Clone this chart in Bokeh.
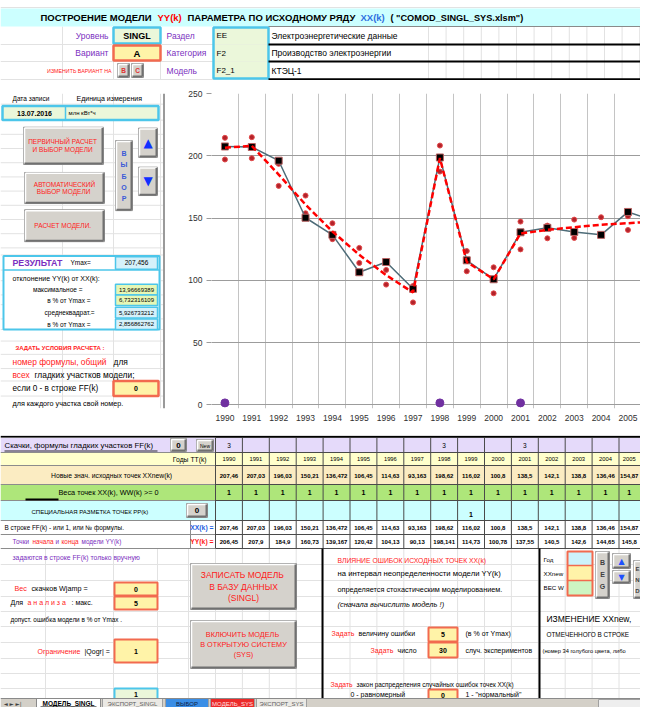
from bokeh.plotting import figure
from bokeh.models import Range1d, FixedTicker, ColumnDataSource
from bokeh.layouts import column, row
from bokeh.embed import file_html
from bokeh.resources import INLINE
from bokeh.core.properties import value

# ---------------- data ----------------
years = [1990, 1991, 1992, 1993, 1994, 1995, 1996, 1997, 1998, 1999, 2000, 2001, 2002, 2003, 2004, 2005]
xx = [207.46, 207.03, 196.03, 150.21, 136.472, 106.45, 114.63, 93.163, 198.62, 116.02, 100.8, 138.5, 142.1, 138.8, 136.46, 154.87]
xx_new = [207.46, 207.03, 196.03, 150.21, 136.472, 106.45, 114.63, 93.163, 198.62, 116.02, 100.8, 138.5, 142.1, 138.8, 136.46, 154.87]
yy = [206.45, 207.9, 184.9, 160.73, 139.167, 120.42, 104.13, 90.13, 198.141, 114.73, 100.78, 137.55, 140.5, 142.6, 144.65, 145.8]
weights = [1, 1, 1, 1, 1, 1, 1, 1, 1, 1, 1, 1, 1, 1, 1, 1]
ff_marks = ["3", "", "", "", "", "", "", "", "3", "", "", "3", "", "", "", ""]
pp_marks = ["", "", "", "", "", "", "", "", "", "1", "", "", "", "", "", ""]
# next point (beyond the visible right edge)
year_next = 2006
xx_next = 147.5
yy_next = 147.2
# stochastic experiments: upper / lower points
err_hi = [214.4, 214.9, 193.5, 168.0, 145.8, 126.0, 108.3, 95.4, 208.2, 123.5, 110.4, 147.1, 143.9, 148.7, 150.6, 151.4]
err_lo = [197.0, 198.0, 175.8, 153.8, 133.0, 113.9, 96.5, 82.2, 187.3, 107.2, 89.5, 124.8, 133.7, 134.0, 136.4, 140.4]
jump_years = [1990, 1998, 2001]
jump_level = [1.5, 1.5, 1.5]
y_ticks = [0, 50, 100, 150, 200, 250]
# results
ymax_val = 207.456
dev_max = 13.96669389
dev_max_pct = 6.732316109
dev_rms = 5.926733212
dev_rms_pct = 2.856862762

FONT = "Liberation Sans"
PURPLE = "#7a2fc0"
RED = "#ff1a1a"
BLUE = "#1f5fe0"
CYAN = "#4cc6ea"
REDB = "#f26a4f"
YELLOW = "#fff3a8"
LGREEN = "#ebf7da"
LCYAN = "#d6f1fa"
LAV = "#e5dafa"
YROW = "#ffffcc"
TAN = "#fbecc2"
GROW = "#aee67a"
CROW = "#ccffff"
BTN = "#d5d2cc"
FAINT = "#e2e2e2"


def fmt(v):
    return f"{v:.10g}".replace(".", ",")


def bgfig(x0, y0, x1, y1):
    p = figure(width=int(x1 - x0), height=int(y1 - y0), x_range=Range1d(x0, x1), y_range=Range1d(y1, y0),
               output_backend="svg", toolbar_location=None, min_border=0,
               x_axis_location=None, y_axis_location=None)
    p.grid.visible = False
    p.outline_line_color = None
    p.background_fill_color = "white"
    p.border_fill_color = "white"
    return p


class Canvas:
    def __init__(self, p):
        self.p = p
        self.reset()

    def reset(self):
        self.g = dict(x0=[], y0=[], x1=[], y1=[], lcol=[], lwid=[])
        self.q = dict(l=[], r=[], t=[], b=[], fcol=[], falp=[], lcol=[], lalp=[], lwid=[])
        self.s = dict(x0=[], y0=[], x1=[], y1=[], lcol=[], lwid=[])
        self.tx = {}

    def grid(self, x0, y0, x1, y1, c=FAINT, w=1):
        for k, v in zip(["x0", "y0", "x1", "y1", "lcol", "lwid"], [x0, y0, x1, y1, c, w]):
            self.g[k].append(v)

    def seg(self, x0, y0, x1, y1, c="black", w=1):
        for k, v in zip(["x0", "y0", "x1", "y1", "lcol", "lwid"], [x0, y0, x1, y1, c, w]):
            self.s[k].append(v)

    def rect(self, x0, y0, x1, y1, fill=None, line=None, lw=1):
        self.q["l"].append(x0); self.q["r"].append(x1)
        self.q["t"].append(y0); self.q["b"].append(y1)
        self.q["fcol"].append(fill or "white"); self.q["falp"].append(1 if fill else 0)
        self.q["lcol"].append(line or "white"); self.q["lalp"].append(1 if line else 0)
        self.q["lwid"].append(lw)

    def text(self, x, y, s, size=8, color="black", align="left", style="normal", font=FONT):
        key = (align, style, font)
        d = self.tx.setdefault(key, dict(x=[], y=[], s=[], fs=[], tcolor=[]))
        d["x"].append(x); d["y"].append(y); d["s"].append(s)
        d["fs"].append(f"{size}px"); d["tcolor"].append(color)

    def button(self, x0, y0, x1, y1, lines, color=RED, size=7, style="bold", fill=BTN, font=FONT):
        self.rect(x0, y0, x1, y1, fill=fill, line="#9a9a9a", lw=1)
        self.seg(x0 + 1, y0 + 1, x1 - 1, y0 + 1, "white", 1.5)
        self.seg(x0 + 1, y0 + 1, x0 + 1, y1 - 1, "white", 1.5)
        self.seg(x0 + 1, y1 - 1, x1 - 1, y1 - 1, "#707070", 2)
        self.seg(x1 - 1, y0 + 1, x1 - 1, y1 - 1, "#707070", 2)
        n = len(lines)
        cy = (y0 + y1) / 2
        lh = size * 1.35
        for i, l in enumerate(lines):
            self.text((x0 + x1) / 2, cy + (i - (n - 1) / 2) * lh, l, size, color, "center", style, font)

    def flush(self):
        p = self.p
        if self.g["x0"]:
            p.segment(x0="x0", y0="y0", x1="x1", y1="y1", line_color="lcol", line_width="lwid",
                      source=ColumnDataSource(self.g))
        if self.q["l"]:
            p.quad(left="l", right="r", top="t", bottom="b", fill_color="fcol", fill_alpha="falp",
                   line_color="lcol", line_alpha="lalp", line_width="lwid", source=ColumnDataSource(self.q))
        if self.s["x0"]:
            p.segment(x0="x0", y0="y0", x1="x1", y1="y1", line_color="lcol", line_width="lwid",
                      source=ColumnDataSource(self.s))
        for (align, style, font), d in self.tx.items():
            p.text(x="x", y="y", text="s", text_font_size="fs", text_color="tcolor",
                   text_align=align, text_font_style=style, text_font=value(font),
                   text_baseline="middle", source=ColumnDataSource(d))
        self.reset()


W = 640          # page content width (reference pixels 0..640)
HB = 707         # page content bottom

# ---------------- header ----------------
head = bgfig(0, 0, W, 80)
H = Canvas(head)
H.grid(0, 7, W, 7)
for x in [62, 113, 160, 213]:
    H.grid(x, 26, x, 80)
for y in [44, 61, 79]:
    H.grid(0, y, 268, y)
for i in range(13):
    x = 428 + 17.6 * i
    H.grid(x, 26, x, 79)
H.rect(0, 8, W, 26, fill="#ccffff")
H.text(40, 17, "ПОСТРОЕНИЕ МОДЕЛИ", 9.5, "black", "left", "bold")
H.text(157, 17, "YY(k)", 9.5, "#ff0000", "left", "bold")
H.text(187, 17, "ПАРАМЕТРА  ПО  ИСХОДНОМУ  РЯДУ", 9.5, "black", "left", "bold")
H.text(360, 17, "XX(k)", 9.5, "#2f6fe0", "left", "bold")
H.text(390, 17, '( "COMOD_SINGL_SYS.xlsm")', 9.2, "black", "left", "bold")

H.seg(268, 26, W, 26, "#8a8a8a", 1)
H.seg(268, 44, W, 44, "black", 2)
H.seg(268, 61, W, 61, "black", 2)
H.seg(268, 79, W, 79, "black", 2.5)

H.text(108, 35, "Уровень", 8.5, PURPLE, "right")
H.rect(113, 27, 160, 43, fill=LGREEN, line=CYAN, lw=2.5)
H.text(136.5, 35, "SINGL", 9, "black", "center", "bold")
H.text(108, 52.5, "Вариант", 8.5, PURPLE, "right")
H.rect(113, 45, 160, 60, fill=YELLOW, line=REDB, lw=2.5)
H.text(136.5, 52.5, "A", 9.5, "black", "center", "bold")
H.text(111, 70, "ИЗМЕНИТЬ ВАРИАНТ НА", 5.3, "#ff2020", "right")
H.button(117, 63, 129, 77, ["B"], "#e03030", 6.5, "bold")
H.button(131, 63, 143, 77, ["C"], "#e03030", 6.5, "bold")

H.text(166, 35, "Раздел", 8.5, PURPLE)
H.text(166, 52.5, "Категория", 8.5, PURPLE)
H.text(166, 70, "Модель", 8.5, PURPLE)
H.rect(213, 27, 268, 44, fill=LGREEN)
H.rect(213, 44, 268, 61, fill=LGREEN)
H.rect(213, 61, 268, 78, fill=LGREEN)
H.rect(213, 27, 268, 78, line=CYAN, lw=2.5)
H.text(216, 35, "EE", 8)
H.text(216, 52.5, "F2", 8)
H.text(216, 70, "F2_1", 8)
H.text(271, 35, "Электроэнергетические данные", 8.5)
H.text(271, 52.5, "Производство электроэнергии", 8.5)
H.text(271, 70, "КТЭЦ-1", 8.5)
H.flush()

# ---------------- left panel ----------------
left = bgfig(0, 80, 165, 435)
L = Canvas(left)
for x in [62, 113, 160]:
    L.grid(x, 80, x, 435)
for y in [92, 110, 126, 142, 158, 174, 190, 206, 222, 238, 254, 262, 279, 291, 307, 318, 334, 346, 359,
          374, 390, 404, 421]:
    L.grid(0, y, 163, y)

L.text(12, 86, "Дата записи", 6.5)
L.text(76, 86, "Единица измерения", 7)
L.rect(2, 94, 158, 110, fill=LGREEN, line=CYAN, lw=2.5)
L.seg(65, 94, 65, 110, CYAN, 1.5)
L.text(34, 102, "13.07.2016", 7, "black", "center", "bold")
L.text(68, 102, "млн кВт*ч", 6)

L.button(23, 118, 103, 160, ["ПЕРВИЧНЫЙ  РАСЧЕТ", "И ВЫБОР  МОДЕЛИ"], RED, 6.5, "normal")
L.button(24, 169, 104, 204, ["АВТОМАТИЧЕСКИЙ", "ВЫБОР  МОДЕЛИ"], RED, 6.5, "normal")
L.button(24, 211, 104, 247, ["РАСЧЕТ   МОДЕЛИ."], RED, 6.5, "normal")
L.button(115, 133, 132, 212, [], BLUE)
for i, ch in enumerate("ВЫБОР"):
    L.text(123.5, 148 + i * 12.5, ch, 7, "#3a5ad8", "center", "bold")
L.button(138, 119, 157, 152, ["▲"], "#1030ff", 12, "normal", font="DejaVu Sans")
L.button(138, 163, 157, 195, ["▼"], "#1030ff", 12, "normal", font="DejaVu Sans")

L.rect(3, 263, 159, 346, fill="white", line=CYAN, lw=2)
L.text(12, 271, "РЕЗУЛЬТАТ", 8.8, PURPLE, "left", "bold")
L.text(70, 271, "Ymax=", 6.5)
L.rect(115, 264, 157, 278, fill=LCYAN, line=CYAN, lw=1.5)
L.text(136, 271, fmt(ymax_val), 6.5, "black", "center")
L.seg(3, 279, 159, 279, CYAN, 1.5)
L.text(12, 288, "отклонение YY(k) от XX(k):", 7)
rows_res = [(301, "максимальное =", 82, dev_max, "#e6f7b6"),
            (313, "в % от Ymax =", 90, dev_max_pct, "#e6f7b6"),
            (327, "среднеквадрат.=", 94, dev_rms, LCYAN),
            (340, "в % от Ymax =", 90, dev_rms_pct, LCYAN)]
for y, lab, xr, v, fc in rows_res:
    L.text(xr, y, lab, 6.5, "black", "right")
    L.rect(115, y - 6, 157, y + 6, fill=fc, line=CYAN, lw=1.5)
    L.text(136, y, fmt(v), 6, "black", "center")

L.text(15, 367, "ЗАДАТЬ УСЛОВИЯ РАСЧЕТА :", 6, RED, "left", "bold")
L.text(12, 383, "номер формулы, общий", 8.4, RED)
L.text(113, 383, "для", 8.4)
L.text(12, 397, "всех", 8.4, RED)
L.text(34, 397, "гладких  участков модели;", 8.4)
L.text(12, 412, "если 0 - в строке FF(k)", 8.2)
L.rect(113, 404, 158, 421, fill=YELLOW, line=REDB, lw=2.5)
L.text(135.5, 412.5, "0", 7, "black", "center", "bold")
L.text(12, 429.5, "для каждого участка свой номер.", 7.2)
L.seg(163.5, 80, 163.5, 435, "#9a9a9a", 2)
L.flush()

# ---------------- chart ----------------
chart = figure(width=W - 165, height=355, x_range=Range1d(1989.5, 2005.466), y_range=Range1d(-3, 250),
               output_backend="svg", toolbar_location=None,
               min_border_left=46, min_border_right=0, min_border_top=13, min_border_bottom=27)
chart.outline_line_color = None
chart.background_fill_color = "white"
chart.border_fill_color = "white"
chart.xaxis.ticker = FixedTicker(ticks=years)
chart.yaxis.ticker = FixedTicker(ticks=y_ticks)
chart.xgrid.ticker = FixedTicker(ticks=[y - 0.5 for y in years] + [years[-1] + 0.5])
chart.ygrid.ticker = FixedTicker(ticks=y_ticks)
chart.xgrid.grid_line_color = "#c4c4c4"
chart.ygrid.grid_line_color = "#9c9c9c"
chart.xgrid.grid_line_width = 1
chart.ygrid.grid_line_width = 1
for ax in (chart.xaxis[0], chart.yaxis[0]):
    ax.axis_line_color = None
    ax.minor_tick_line_color = None
    ax.major_label_text_font = FONT
    ax.major_label_text_font_size = "8.5px"
    ax.major_label_text_color = "#303030"
chart.xaxis.major_tick_line_color = None
chart.xaxis.major_tick_out = 0
chart.xaxis.major_tick_in = 0
chart.xaxis.major_label_standoff = 6
chart.yaxis.major_tick_line_color = "#9c9c9c"
chart.yaxis.major_tick_in = 0
chart.yaxis.major_tick_out = 5
chart.yaxis.major_label_standoff = 4

chart.scatter(x=years + years, y=err_hi + err_lo, marker="circle", size=5,
              fill_color="#b3222a", line_color="#e24a4a", line_width=1)
chart.line(x=years + [year_next], y=xx + [xx_next], line_color="#4e6c78", line_width=1.5)
chart.scatter(x=years, y=xx, marker="square", size=7, fill_color="black", line_color="#b86060", line_width=1)
chart.line(x=years + [year_next], y=yy + [yy_next], line_color="#ff0000", line_width=2.5, line_dash="6 3")
chart.scatter(x=jump_years, y=jump_level, marker="circle", size=8, fill_color="#7030a0", line_color="#7030a0")

# ---------------- bottom ----------------
bot = bgfig(0, 435, W, HB)
B = Canvas(bot)
bnd = [215 + 26.9 * i for i in range(len(years) + 1)]
# visible centre of each column (last column is cut by the page edge)
cen = [(bnd[i] + min(bnd[i + 1], W - 1)) / 2 for i in range(len(years))]

# faint sheet grid (lower area)
for x in [45, 113, 157, 188] + bnd:
    B.grid(x, 548, x, 700)
for y in [564, 580, 596, 611, 626, 642, 658, 673, 688]:
    B.grid(0, y, W, y)

R = [437, 452, 465, 484, 500, 520, 534, 548]
B.rect(0, 437, W, 452, fill=LAV)
B.rect(0, 452, W, 465, fill=YROW)
B.rect(0, 465, W, 484, fill=TAN)
B.rect(0, 484, W, 500, fill=GROW)
B.rect(0, 500, W, 520, fill=CROW)
B.rect(0, 520, W, 548, fill="white")
for y in R:
    B.seg(215, y, W, y, "#4a4a4a", 1)
    B.seg(0, y, 215, y, "#8c8c8c", 1)
for x in bnd:
    B.seg(x, 437, x, 548, "#4a4a4a", 1)
B.seg(190, 520, 190, 548, "#8c8c8c", 1)
B.seg(0, 436, W, 436, "black", 1.5)

B.text(4, 445, "Скачки, формулы гладких участков  FF(k)", 7.8)
B.seg(4, 450.5, 157, 450.5, "black", 0.8)
B.button(170, 438, 186, 451, ["0"], "black", 8, "bold")
B.button(196, 439, 213, 451, ["New"], "black", 5, "normal")
B.text(208, 458.5, "Годы  TT(k)", 6.8, "black", "right")
B.text(112, 475, "Новые знач. исходных точек  XXnew(k)", 6.8, "black", "center")
B.text(58, 492, "Веса точек XX(k),   WW(k) >= 0", 7.3)
B.seg(25, 499, 58, 499, "black", 2)
B.text(31, 511, "СПЕЦИАЛЬНАЯ  РАЗМЕТКА ТОЧЕК  PP(k)", 6)
B.button(186, 503, 207, 517, ["0"], "black", 8, "bold")
B.text(4, 527, "В строке FF(k) - или 1, или № формулы.", 6.4)
B.text(213, 527, "XX(k) =", 6.8, BLUE, "right", "bold")
B.text(12, 541, "Точки", 6.4, PURPLE)
B.text(32, 541, "начала", 6.4, RED)
B.text(55, 541, "и", 6.4, PURPLE)
B.text(61, 541, "конца", 6.4, RED)
B.text(81, 541, "модели  YY(k)", 6.4, PURPLE)
B.text(213, 541, "YY(k) =", 6.8, RED, "right", "bold")

for i in range(len(years)):
    c = cen[i]
    if ff_marks[i]:
        B.text(c, 445, ff_marks[i], 6.5, "black", "center")
    B.text(c, 458.5, str(years[i]), 5.8, "black", "center")
    B.text(c, 475, fmt(xx_new[i]), 6, "black", "center", "bold")
    B.text(c, 492, str(weights[i]), 7, "black", "center", "bold")
    if pp_marks[i]:
        B.text(c, 514, pp_marks[i], 7, "black", "center", "bold")
    B.text(c, 527, fmt(xx[i]), 6, "black", "center", "bold")
    B.text(c, 541, fmt(yy[i]), 6, "black", "center", "bold")

# lower-left
B.text(12, 557, "задаются в строке FF(k) только вручную", 6.8, PURPLE)
B.text(14, 588, "Вес", 7.2, RED)
B.text(31, 588, "скачков   Wjamp =", 7.2)
B.rect(114, 582, 157, 595, fill=YELLOW, line=REDB, lw=2)
B.text(135.5, 588.5, "0", 7, "black", "center", "bold")
B.text(10, 602, "Для", 7)
B.text(27, 602, "а н а л и з а", 7, RED)
B.text(71, 602, ":  макс.", 7)
B.rect(114, 596, 157, 609, fill=YELLOW, line=REDB, lw=2)
B.text(135.5, 602.5, "5", 7, "black", "center", "bold")
B.text(10, 619, "допуст. ошибка  модели в  %  от Ymax .", 6.4)
B.text(37, 651, "Ограничение", 7, RED)
B.text(84, 651, "|Qogr| =", 7)
B.rect(114, 639, 157, 662, fill=YELLOW, line=REDB, lw=2)
B.text(135.5, 650.5, "1", 7, "black", "center", "bold")
B.rect(114, 688, 157, 702, fill=LGREEN, line=CYAN, lw=2)
B.text(135.5, 694, "1", 7, "black", "center", "bold")

B.button(190, 563, 296, 609, ["ЗАПИСАТЬ  МОДЕЛЬ", "В БАЗУ ДАННЫХ", "(SINGL)"], RED, 8.5, "normal")
B.button(190, 620, 296, 668, ["ВКЛЮЧИТЬ  МОДЕЛЬ", "В ОТКРЫТУЮ СИСТЕМУ", "(SYS)"], RED, 7.3, "normal")

B.seg(322, 548, 322, 700, "black", 2)
B.seg(539, 548, 539, 700, "black", 2)
B.text(337, 560, "ВЛИЯНИЕ  ОШИБОК ИСХОДНЫХ  ТОЧЕК  XX(k)", 6.8, RED)
B.text(337, 573, "на интервал неопределенности модели YY(k)", 7.7)
B.text(337, 589, "определяется стохастическим  моделированием.", 7.3)
B.text(337, 604, "(сначала  вычислить модель  !)", 7.5, "black", "left", "italic")
B.text(331, 633, "Задать", 7, RED)
B.text(358, 633, "величину ошибки", 7)
B.rect(428, 627, 457, 641, fill=YELLOW, line=REDB, lw=2)
B.text(442.5, 634, "5", 7, "black", "center", "bold")
B.text(465, 633, "(в % от Ymax)", 7)
B.text(370, 650, "Задать", 7, RED)
B.text(397, 650, "число", 7)
B.rect(428, 642, 457, 657, fill=YELLOW, line=REDB, lw=2)
B.text(442.5, 649.5, "30", 7, "black", "center", "bold")
B.text(465, 650, "случ.  экспериментов", 6.9)
B.text(330, 684, "Задать", 6.8, RED)
B.text(356, 684, "закон распределения случайных ошибок точек XX(k)", 6.4)
B.rect(428, 689, 457, 703, fill=YELLOW, line=REDB, lw=2)
B.text(442.5, 695, "0", 7, "black", "center", "bold")
B.text(350, 694, "0 - равномерный", 7)
B.text(465, 694, '1 - "нормальный"', 7)

B.text(543, 559, "Год", 6.2)
B.text(543, 573, "XXnew", 6.2)
B.text(543, 587, "ВЕС W", 6.2)
B.rect(567, 551, 592, 565, fill="#cdf3fb")
B.rect(567, 565, 592, 580, fill=YELLOW)
B.rect(567, 580, 592, 595, fill="#cdf5c2")
B.rect(567, 551, 592, 595, line=REDB, lw=2)
B.seg(567, 565, 592, 565, REDB, 1.5)
B.seg(567, 580, 592, 580, REDB, 1.5)
B.button(595, 551, 609, 598, [], "black")
for i, ch in enumerate("BEG"):
    B.text(602, 562 + i * 12, ch, 7, "#404040", "center", "bold")
B.button(612, 553, 630, 568, ["▲"], "#2050ff", 8, "normal", font="DejaVu Sans")
B.button(612, 570, 630, 583, ["▼"], "#2050ff", 8, "normal", font="DejaVu Sans")
B.button(633, 560, 648, 598, [], "black")
for i, ch in enumerate("END"):
    B.text(637, 568 + i * 11, ch, 6, "#404040", "center", "bold")
B.text(546, 618, "ИЗМЕНЕНИЕ  XXnew,", 8.5)
B.text(546, 634, "ОТМЕЧЕННОГО  В  СТРОКЕ", 6.4)
B.text(542, 650, "(номер 34 голубого цвета, либо", 5.7)
B.flush()

# sheet tabs bar (on top)
B.rect(0, 698, W, HB, fill="#d4d0c8")
B.seg(0, 698, W, 698, "#8a8a8a", 1)
B.text(3, 703, "◄ ► ►|", 5.5, "#404040", "left", "normal", "DejaVu Sans")
B.rect(36, 698, 100, HB, fill="white", line="#8a8a8a")
B.text(68, 703, "МОДЕЛЬ_SINGL", 6.5, "black", "center", "bold")
B.seg(40, 706.5, 96, 706.5, "black", 1)
B.rect(102, 698, 162, HB, fill="#ebe9e4", line="#a0a0a0")
B.text(132, 703, "ЭКСПОРТ_SINGL", 6, "#606060", "center")
B.rect(165, 698, 208, HB, fill="#3a8ee6", line="#a0a0a0")
B.text(186.5, 703, "ВЫБОР", 6, "#102040", "center")
B.rect(210, 698, 254, HB, fill="#ec2a2a", line="#a0a0a0")
B.text(232, 703, "МОДЕЛЬ_SYS", 6, "#ffe0e0", "center")
B.rect(256, 698, 306, HB, fill="#ebe9e4", line="#a0a0a0")
B.text(281, 703, "ЭКСПОРТ_SYS", 6, "#606060", "center")
B.rect(598, 699, W, HB, fill="#eeeeee", line="#a0a0a0")
B.flush()

layout = column(head, row(left, chart), bot)
open("out.html", "w").write(file_html(layout, INLINE))
